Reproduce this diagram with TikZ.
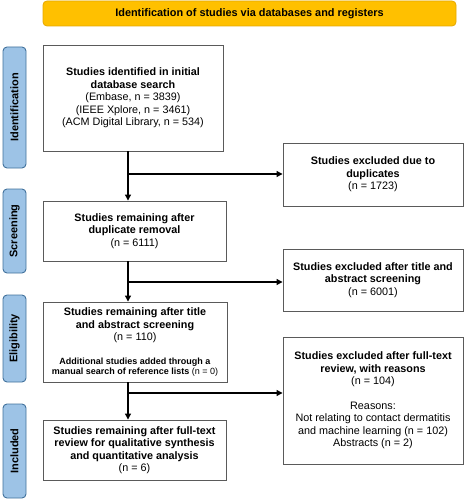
\documentclass[tikz,border=0pt]{standalone}
\usepackage{fontspec}
\setmainfont{Liberation Sans}
\usetikzlibrary{arrows.meta}
\definecolor{bannerfill}{HTML}{FFC000}
\definecolor{bannerdraw}{HTML}{E5A800}
\definecolor{sidefill}{HTML}{9DC3E6}
\definecolor{sidedraw}{HTML}{41719C}
\definecolor{boxdraw}{HTML}{5A5A5A}
\tikzset{
  x=1pt, y=-1pt,
  banner/.style={draw=bannerdraw, fill=bannerfill, rounded corners=4pt, line width=0.8pt,
    font=\fontsize{10.9}{12}\selectfont\bfseries, inner sep=0pt},
  side/.style={draw=sidedraw, fill=sidefill, rounded corners=4pt, line width=0.9pt,
    minimum width=23pt, inner sep=0pt},
  sidetext/.style={rotate=90, font=\fontsize{11}{12}\selectfont\bfseries},
  stagebox/.style={draw=boxdraw, line width=0.9pt, fill=white, inner sep=0pt, align=center,
    font=\fontsize{10.8}{12.4}\selectfont},
  txt/.style={align=center, inner sep=0pt, font=\fontsize{10.8}{12.4}\selectfont},
  flow/.style={draw=black, line width=1.1pt, -{Triangle[length=6pt,width=6pt]}},
}
\begin{document}
\begin{tikzpicture}
\useasboundingbox (0,0) rectangle (464,500);
% banner
\node[banner, minimum width=413pt, minimum height=25pt] (ban) at (249.5,13.5)
  {Identification of studies via databases and registers};
% side labels
\node[side, minimum height=121pt] (sid) at (14.5,107.5) {};
\node[sidetext] (sidt) at (sid.center) {Identification};
\node[side, minimum height=84pt] (sscr) at (14.5,231) {};
\node[sidetext] (sscrt) at (sscr.center) {Screening};
\node[side, minimum height=87pt] (selg) at (14.5,338.5) {};
\node[sidetext] (selgt) at (selg.center) {Eligibility};
\node[side, minimum height=94pt] (sinc) at (14.5,451) {};
\node[sidetext] (sinct) at (sinc.center) {Included};
% main boxes
\node[stagebox, minimum width=180pt, minimum height=106pt] (b1) at (133,98)
  {\textbf{Studies identified in initial}\\\textbf{database search}\\(Embase, n = 3839)\\(IEEE Xplore, n = 3461)\\(ACM Digital Library, n = 534)};
\node[stagebox, minimum width=183pt, minimum height=60pt] (b2) at (134.5,231)
  {\textbf{Studies remaining after}\\\textbf{duplicate removal}\\(n = 6111)};
\node[stagebox, minimum width=184pt, minimum height=80pt] (b3) at (135,342) {};
\node[txt] (b3t) at (135,325.5)
  {\textbf{Studies remaining after title}\\\textbf{and abstract screening}\\(n = 110)};
\node[txt, font=\fontsize{9}{9.8}\selectfont] (b3s) at (135,367.5)
  {\textbf{Additional studies added through a}\\\textbf{manual search of reference lists} (n = 0)};
\node[stagebox, minimum width=183pt, minimum height=60pt] (b4) at (134.5,450)
  {\textbf{Studies remaining after full-text}\\\textbf{review for qualitative synthesis}\\\textbf{and quantitative analysis}\\(n = 6)};
% exclusion boxes
\node[stagebox, minimum width=180pt, minimum height=63pt] (e1) at (373,174.5)
  {\textbf{Studies excluded due to}\\\textbf{duplicates}\\(n = 1723)};
\node[stagebox, minimum width=180pt, minimum height=62pt] (e2) at (373,280)
  {\textbf{Studies excluded after title and}\\\textbf{abstract screening}\\(n = 6001)};
\node[stagebox, minimum width=180pt, minimum height=127pt] (e3) at (373,400.5)
  {\textbf{Studies excluded after full-text}\\\textbf{review, with reasons}\\(n = 104)\\[12.4pt]Reasons:\\Not relating to contact dermatitis\\and machine learning (n = 102)\\Abstracts (n = 2)};
% connectors
\coordinate (s1) at (128,174);
\coordinate (s2) at (128,282);
\coordinate (s3) at (128,393);
\draw[flow] (b1.south -| s1) -- (b2.north -| s1);
\draw[flow] (s1) -- (s1 -| e1.west);
\draw[flow] (b2.south -| s2) -- (b3.north -| s2);
\draw[flow] (s2) -- (s2 -| e2.west);
\draw[flow] (b3.south -| s3) -- (b4.north -| s3);
\draw[flow] (s3) -- (s3 -| e3.west);
\end{tikzpicture}
\end{document}
